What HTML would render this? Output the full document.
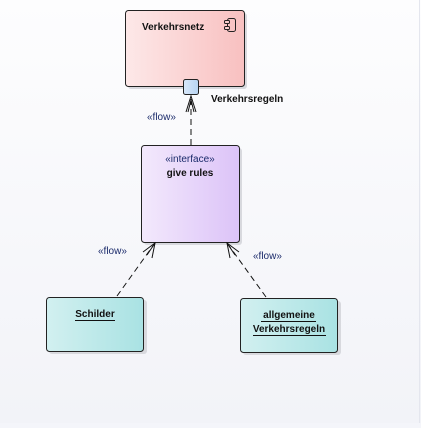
<!DOCTYPE html>
<html><head><style>
html,body{margin:0;padding:0;}
body{width:421px;height:423px;overflow:hidden;background:#f4f5fa;}
text{font-family:"Liberation Sans",sans-serif;}
</style></head><body>
<svg width="421" height="423" viewBox="0 0 421 423" xmlns="http://www.w3.org/2000/svg">
<defs>
<linearGradient id="bg" x1="0" y1="0" x2="0" y2="1"><stop offset="0" stop-color="#fdfdfe"/><stop offset="1" stop-color="#f2f3f8"/></linearGradient>
<linearGradient id="red" x1="0" x2="1"><stop offset="0" stop-color="#fde8e8"/><stop offset="1" stop-color="#f8c0c0"/></linearGradient>
<linearGradient id="pur" x1="0" x2="1"><stop offset="0" stop-color="#f3e9fc"/><stop offset="1" stop-color="#dcc3f8"/></linearGradient>
<linearGradient id="cy" x1="0" x2="1"><stop offset="0" stop-color="#d2f0f0"/><stop offset="1" stop-color="#a9e2e3"/></linearGradient>
<linearGradient id="port" x1="0" x2="1"><stop offset="0" stop-color="#d8e8fa"/><stop offset="1" stop-color="#b8d4f2"/></linearGradient>
</defs>
<rect width="421" height="423" fill="url(#bg)"/>
<line x1="419.5" y1="0" x2="419.5" y2="423" stroke="#e4e6ee"/>
<rect x="128" y="13" width="119" height="76" rx="3" fill="#d8d9de"/>
<rect x="144" y="148" width="98" height="97" rx="3" fill="#d8d9de"/>
<rect x="49" y="300" width="98" height="54" rx="3" fill="#d8d9de"/>
<rect x="243" y="301" width="98" height="54" rx="3" fill="#d8d9de"/>
<rect x="125.5" y="10.5" width="119" height="76" rx="3" fill="url(#red)" stroke="#222"/>
<text x="142" y="30" font-size="10" font-weight="bold" fill="#111">Verkehrsnetz</text>
<rect x="227.5" y="18.5" width="8" height="13" rx="2" fill="none" stroke="#222"/>
<rect x="224.5" y="20.5" width="5" height="3" rx="1" fill="#fbd0d0" stroke="#222"/>
<rect x="224.5" y="26.5" width="5" height="3" rx="1" fill="#fbd0d0" stroke="#222"/>
<rect x="183.5" y="79.5" width="15" height="15" rx="2" fill="url(#port)" stroke="#222"/>
<text x="211" y="102" font-size="10" font-weight="bold" fill="#111">Verkehrsregeln</text>
<line x1="191" y1="145" x2="191" y2="96" stroke="#111" stroke-dasharray="6,4"/>
<polyline points="186,112 191,96 196,112" fill="none" stroke="#111"/>
<polyline points="188,112 191,100 194,112" fill="none" stroke="#111"/>
<text x="147" y="120" font-size="10" fill="#1a2a6a">«flow»</text>
<rect x="141.5" y="145.5" width="98" height="97" rx="3" fill="url(#pur)" stroke="#222"/>
<text x="190" y="162" font-size="10" text-anchor="middle" fill="#1a2a6a">«interface»</text>
<text x="190" y="176" font-size="10" font-weight="bold" text-anchor="middle" fill="#111">give rules</text>
<line x1="117" y1="296" x2="155" y2="243" stroke="#111" stroke-dasharray="6,4"/>
<polyline points="143,252 155,243 152,258" fill="none" stroke="#111"/>
<polyline points="147,255 155,243" fill="none" stroke="#111"/>
<text x="98" y="254" font-size="10" fill="#1a2a6a">«flow»</text>
<line x1="266" y1="297" x2="227" y2="243" stroke="#111" stroke-dasharray="6,4"/>
<polyline points="230,258 227,243 239,252" fill="none" stroke="#111"/>
<polyline points="235,255 227,243" fill="none" stroke="#111"/>
<text x="253" y="259" font-size="10" fill="#1a2a6a">«flow»</text>
<rect x="46.5" y="297.5" width="97" height="54" rx="3" fill="url(#cy)" stroke="#222"/>
<text x="95" y="317" font-size="10" font-weight="bold" text-anchor="middle" fill="#111">Schilder</text>
<line x1="75" y1="320.5" x2="115" y2="320.5" stroke="#111"/>
<rect x="240.5" y="298.5" width="97" height="54" rx="3" fill="url(#cy)" stroke="#222"/>
<text x="289" y="318" font-size="10" font-weight="bold" text-anchor="middle" fill="#111">allgemeine</text>
<line x1="261" y1="321.5" x2="316" y2="321.5" stroke="#111"/>
<text x="289" y="332" font-size="10" font-weight="bold" text-anchor="middle" fill="#111">Verkehrsregeln</text>
<line x1="253" y1="335.5" x2="326" y2="335.5" stroke="#111"/>
</svg>
</body></html>
